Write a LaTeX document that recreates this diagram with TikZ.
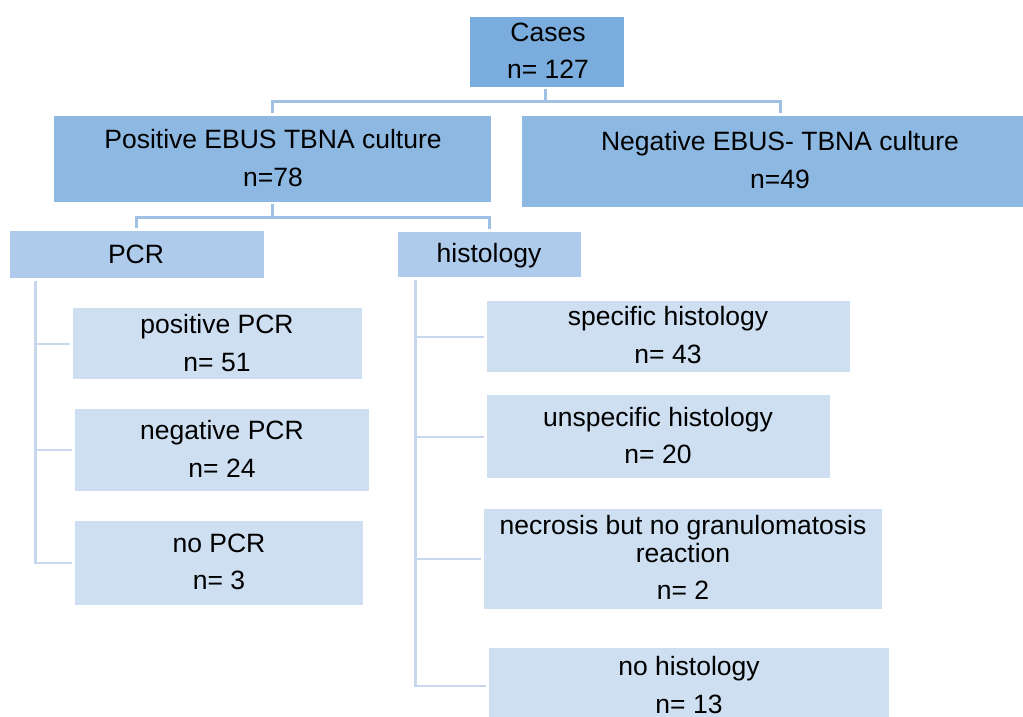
\documentclass[tikz,border=0pt]{standalone}
\usepackage{fontspec}
\setmainfont{Liberation Sans}
\definecolor{lvA}{RGB}{122,173,222}
\definecolor{lvB}{RGB}{141,184,225}
\definecolor{lvC}{RGB}{174,203,235}
\definecolor{lvD}{RGB}{205,223,241}
\definecolor{lineTop}{RGB}{160,192,228}
\definecolor{lineLow}{RGB}{198,215,238}
\begin{document}
\begin{tikzpicture}[x=1pt,y=-1pt,
  box/.style={draw=none,inner sep=0pt,anchor=north west},
  txt/.style={inner sep=0pt,anchor=base,font=\fontsize{26.5}{31}\selectfont},
  topline/.style={draw=lineTop,line width=3pt},
  lowline/.style={draw=lineLow,line width=3pt},
  stub/.style={draw=lineLow,line width=2.2pt}]
\useasboundingbox[fill=white] (0,0) rectangle (1023,717);

% boxes
\node[box,fill=lvA,minimum width=154pt,minimum height=70pt] (cases) at (470,17) {};
\node[box,fill=lvB,minimum width=437pt,minimum height=86pt] (pos) at (54,116) {};
\node[box,fill=lvB,minimum width=501pt,minimum height=91pt] (neg) at (522,116) {};
\node[box,fill=lvC,minimum width=253.5pt,minimum height=47pt] (pcr) at (10,231) {};
\node[box,fill=lvC,minimum width=183pt,minimum height=45pt] (hist) at (398,232) {};
\node[box,fill=lvD,minimum width=289pt,minimum height=71pt] (posp) at (73,308) {};
\node[box,fill=lvD,minimum width=294pt,minimum height=82pt] (negp) at (75,409) {};
\node[box,fill=lvD,minimum width=288pt,minimum height=84pt] (nop) at (75,521) {};
\node[box,fill=lvD,minimum width=363pt,minimum height=71pt] (spec) at (487,301) {};
\node[box,fill=lvD,minimum width=343pt,minimum height=83pt] (unspec) at (487,395) {};
\node[box,fill=lvD,minimum width=398pt,minimum height=100pt] (necro) at (484,509) {};
\node[box,fill=lvD,minimum width=400pt,minimum height=76pt] (nohist) at (489,648) {};

% texts
\node[txt] (t1) at (548,42) {Cases};
\node[txt] (t2) at (548,78) {n= 127};
\node[txt] (t3) at (273,148) {Positive EBUS TBNA culture};
\node[txt] (t4) at (273,186) {n=78};
\node[txt] (t5) at (780,150) {Negative EBUS- TBNA culture};
\node[txt] (t6) at (780,188) {n=49};
\node[txt] (t7) at (136,263) {PCR};
\node[txt] (t8) at (489,262) {histology};
\node[txt] (t9) at (217,333) {positive PCR};
\node[txt] (t10) at (217,371) {n= 51};
\node[txt] (t11) at (222,439) {negative PCR};
\node[txt] (t12) at (222,477) {n= 24};
\node[txt] (t13) at (219,552) {no PCR};
\node[txt] (t14) at (219,589) {n= 3};
\node[txt] (t15) at (668,325) {specific histology};
\node[txt] (t16) at (668,363) {n= 43};
\node[txt] (t17) at (658,426) {unspecific histology};
\node[txt] (t18) at (658,463) {n= 20};
\node[txt] (t19) at (683,534) {necrosis but no granulomatosis};
\node[txt] (t20) at (683,562) {reaction};
\node[txt] (t21) at (683,599) {n= 2};
\node[txt] (t22) at (689,675) {no histology};
\node[txt] (t23) at (689,713) {n= 13};

% upper connectors
\draw[topline,shorten <=2pt] ([xshift=-2pt]cases.south) -- ++(0,14) coordinate (j1);
\draw[topline,shorten <=3pt,shorten >=3pt] (pos.north) |- (j1) -| ([xshift=8pt]neg.north);
\draw[topline,shorten <=2pt] (pos.south) -- ++(0,15) coordinate (j2);
\draw[topline,shorten <=3pt,shorten >=3pt] ([xshift=-0.5pt]pcr.north) |- (j2) -| (hist.north);

% PCR branch
\coordinate (v1) at ([xshift=25pt,yshift=-3pt]pcr.south west);
\draw[lowline] (v1) -- (v1 |- nop.west);
\draw[stub] ([xshift=-1.5pt]v1 |- nop.west) -- ([xshift=-3pt]nop.west);
\draw[stub] (v1 |- posp.west) -- ([xshift=-3pt]posp.west);
\draw[stub] (v1 |- negp.west) -- ([xshift=-3pt]negp.west);

% histology branch
\coordinate (v2) at ([xshift=17pt,yshift=-3pt]hist.south west);
\draw[lowline] (v2) -- (v2 |- nohist.west);
\draw[stub] ([xshift=-1.5pt]v2 |- nohist.west) -- ([xshift=-3pt]nohist.west);
\draw[stub] (v2 |- spec.west) -- ([xshift=-3pt]spec.west);
\draw[stub] (v2 |- unspec.west) -- ([xshift=-3pt]unspec.west);
\draw[stub] (v2 |- necro.west) -- ([xshift=-3pt]necro.west);
\end{tikzpicture}
\end{document}
